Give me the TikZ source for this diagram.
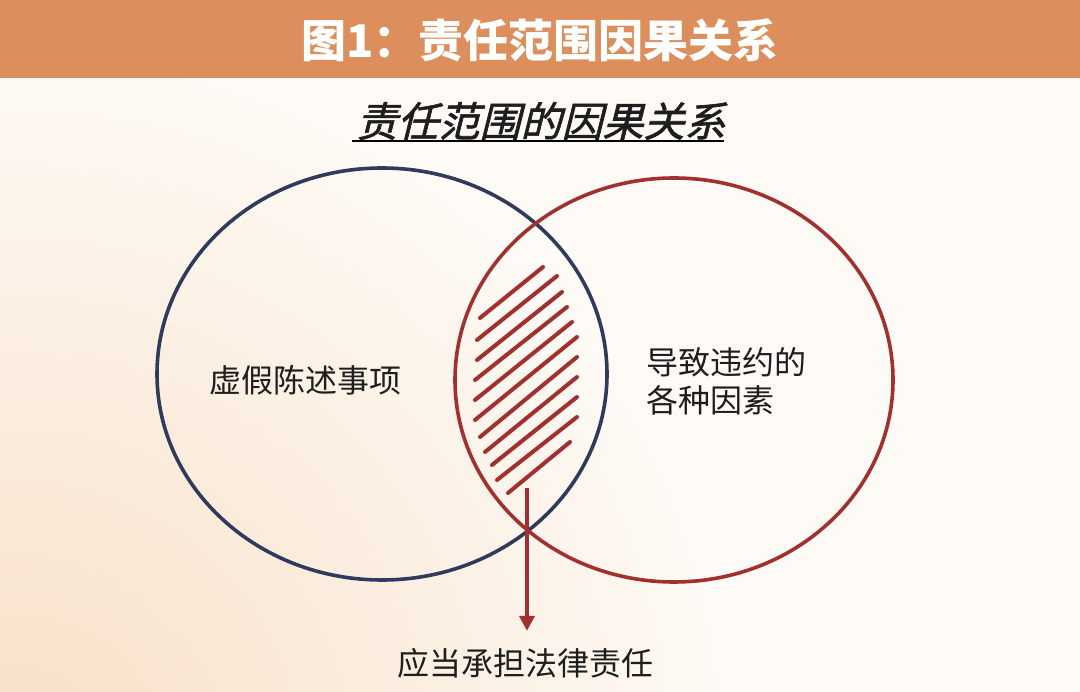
\documentclass[tikz,border=0pt]{standalone}
\usepackage{fontspec}
\usepackage{tikz}
\usetikzlibrary{arrows.meta,shapes.geometric}
\setmainfont{Noto Sans CJK SC}
\newfontfamily\slantfont{Noto Sans CJK SC}[FakeSlant=0.25,FakeBold=1.5]
\definecolor{headbar}{HTML}{DC8F5C}
\definecolor{navyring}{HTML}{2F3A5C}
\definecolor{redring}{HTML}{A2302F}
\definecolor{inktext}{HTML}{1E1E1E}
\definecolor{paper}{HTML}{FEFBF7}
\definecolor{peach}{HTML}{F8DFC6}

\begin{document}
\begin{tikzpicture}[x=1pt,y=-1pt,
every node/.style = {inner sep=0pt, text=inktext, align=left},
ring/.style = {shape=ellipse, draw=#1, line width=3.6pt, inner sep=0pt},
label/.style = {font=\fontsize{32}{38}\selectfont},
hatch/.style = {draw=redring, line width=4pt, line cap=round},
pointer/.style = {draw=redring, line width=4pt, -{Triangle[width=15pt,length=15pt]}}]

\useasboundingbox (0,0) rectangle (1080,692);
\fill[paper] (0,0) rectangle (1080,692);
\begin{scope}
\clip (0,78) rectangle (1080,692);
\shade[inner color=peach, outer color=paper] (20,760) circle (740);
\end{scope}
\fill[headbar] (0,0) rectangle (1080,78);

\node[text=white, font=\fontsize{45}{50}\selectfont\bfseries] (title) at (540,40) {图1：责任范围因果关系};
\node[font=\fontsize{41}{46}\selectfont\slantfont] (sub) at (541,121) {责任范围的因果关系};
\draw[black, line width=2pt] ([yshift=-1pt,xshift=-4pt]sub.south west) -- ([yshift=-1pt,xshift=-2pt]sub.south east);

\node[ring=navyring, minimum width=450pt, minimum height=412pt] (fraud) at (382,374) {};
\node[ring=redring, minimum width=438pt, minimum height=404pt] (cause) at (674,380) {};

\foreach \a/\b in {{480,318}/{543,267}, {477,340}/{557,276}, {477,360}/{562,292},
  {475,380}/{567,307}, {475,400}/{572,322}, {475,420}/{577,337}, {480,437}/{577,357},
  {485,452}/{577,377}, {492,465}/{577,397}, {497,480}/{577,417}, {508,493}/{570,442}}
  \draw[hatch] (\a) -- (\b);

\node[label] (fraudtext) at (305,380) {虚假陈述事项};
\node[label, anchor=west] (causetext) at (646,381) {导致违约的\\各种因素};
\node[label] (duty) at (525,663) {应当承担法律责任};

\coordinate (tail) at (527,488);
\draw[pointer, shorten >=17pt] (tail) -- (tail |- duty.north);
\end{tikzpicture}
\end{document}
